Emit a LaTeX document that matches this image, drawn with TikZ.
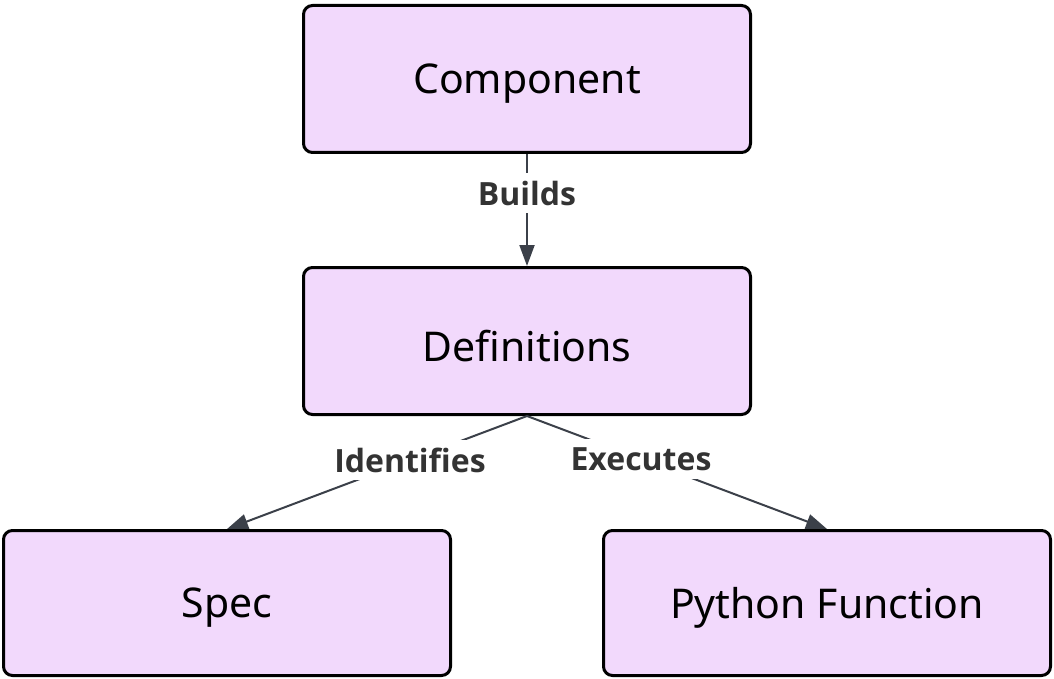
\documentclass[tikz,border=0pt]{standalone}
\usepackage{fontspec}
\setmainfont{Noto Sans}
\newfontfamily\labfont{Open Sans}
\usetikzlibrary{arrows.meta}
\definecolor{boxfill}{HTML}{F2D9FC}
\definecolor{edgecol}{HTML}{3B4049}
\definecolor{labcol}{HTML}{333333}
\newcommand{\lowtxt}[1]{\raisebox{-5pt}[\height][\depth]{#1}}
\tikzset{
  box/.style={draw=black, line width=3pt, fill=boxfill, rounded corners=9pt,
    minimum width=447pt, minimum height=147pt, inner sep=0pt,
    font=\fontsize{41}{48}\selectfont, text=black},
  conn/.style={draw=edgecol, line width=2pt, -{Triangle[length=21pt,width=15pt]}},
  elabel/.style={fill=white, text=labcol, font=\labfont\fontsize{32}{36}\bfseries\selectfont,
    inner xsep=1pt, inner ysep=0pt, minimum height=40pt}
}
\begin{document}
\begin{tikzpicture}[x=1pt,y=1pt]
\useasboundingbox (0,0) rectangle (1054,-679);
\node[box] (comp) at (527,-79) {\lowtxt{Component}};
\node[box] (defs) at (527,-341) {\lowtxt{Definitions}};
\node[box, minimum height=145pt] (spec) at (227,-603) {\lowtxt{Spec}};
\node[box, minimum height=145pt] (py) at (827,-603) {\lowtxt{Python Function}};
\draw[conn] (comp.south) -- node[elabel, pos=0.35] (lb) {Builds} (defs.north);
\draw[conn] (defs.south) -- node[elabel, pos=0.39] (li) {Identifies} (spec.north);
\draw[conn] (defs.south) -- node[elabel, pos=0.38] (le) {Executes} (py.north);
\end{tikzpicture}
\end{document}
